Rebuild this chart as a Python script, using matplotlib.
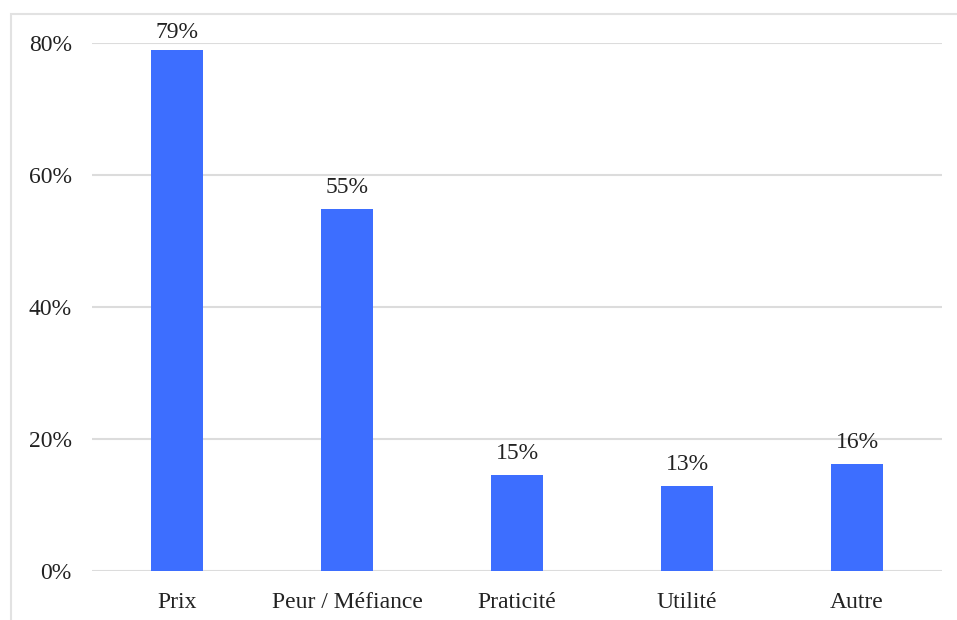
import matplotlib.pyplot as plt
from matplotlib.patches import Rectangle

# raisons de non-achat
categories = ['Prix', 'Peur / Méfiance', 'Praticité', 'Utilité', 'Autre']
values = [79.0, 54.8, 14.5, 12.9, 16.2]
labels = ['79%', '55%', '15%', '13%', '16%']
yticks = [0, 20, 40, 60, 80]

plt.rcParams['font.family'] = ['Liberation Serif', 'DejaVu Serif']

fig = plt.figure(figsize=(9.57, 6.2), dpi=100)
ax = fig.add_axes([92 / 957, 1 - 571 / 620, 850 / 957, 528 / 620])

# light frame around the chart (left + top)
fig.add_artist(Rectangle((11 / 957, -0.1), 1.2, 1 - 14 / 620 + 0.1,
                         transform=fig.transFigure, fill=False,
                         edgecolor='#e2e2e2', linewidth=1.5))

x = range(len(categories))
bars = ax.bar(x, values, width=0.31, color='#3d6eff', zorder=3)

# value labels above bars, kept inside the plot area at the top
for i, v in enumerate(values):
    ax.text(i, min(v + 1.7, 80), labels[i], ha='center', va='bottom',
            fontsize=17, color='#222222', zorder=4)

ax.set_xlim(-0.5, 4.5)
ax.set_ylim(0, 80)
ax.set_yticks(yticks)
ax.set_yticklabels([f'{t}%' for t in yticks])
ax.set_xticks(list(x))
ax.set_xticklabels(categories)
ax.tick_params(axis='both', length=0, labelsize=17, colors='#222222')
ax.tick_params(axis='y', pad=14.5)
ax.tick_params(axis='x', pad=15)

ax.grid(True, axis='y', color='#dcdcdc', linewidth=1.5, zorder=0)
for s in ax.spines.values():
    s.set_visible(False)

plt.savefig('out.png', dpi=100)
plt.close()
